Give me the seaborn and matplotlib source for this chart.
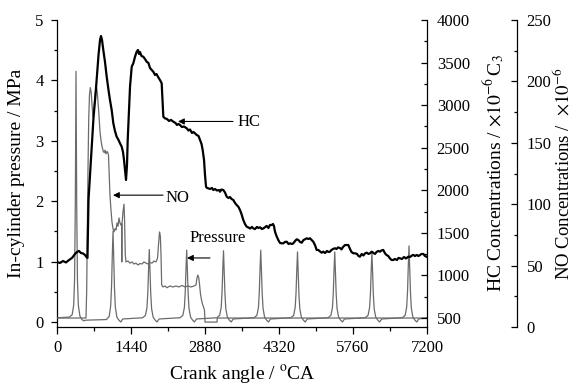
import matplotlib
matplotlib.use("Agg")
import matplotlib.pyplot as plt
import seaborn as sns
import pandas as pd
from matplotlib.ticker import MultipleLocator

# ---------------- data ----------------
# HC concentration (x10^-6 C3) vs crank angle (degCA)
hc_points = [
    (0, 1158), (58, 1146), (117, 1169), (175, 1152), (234, 1181), (292, 1205), (350, 1252),
    (389, 1275), (428, 1287), (467, 1263), (506, 1258), (545, 1240), (574, 1216), (593, 1205),
    (613, 1886), (642, 2180), (671, 2473), (710, 2849), (749, 3119), (778, 3354), (808, 3589),
    (837, 3765), (856, 3812), (876, 3765), (901, 3648), (934, 3507), (967, 3334), (1002, 3178),
    (1031, 3060), (1064, 2943), (1096, 2787), (1128, 2696), (1161, 2629), (1197, 2591),
    (1226, 2552), (1259, 2512), (1284, 2450), (1304, 2356), (1323, 2238), (1343, 2121),
    (1362, 2297), (1376, 2591), (1401, 2943), (1421, 3217), (1454, 3452), (1485, 3491),
    (1518, 3569), (1551, 3628), (1576, 3648), (1596, 3601), (1615, 3624), (1644, 3577),
    (1679, 3569), (1712, 3542), (1745, 3510), (1780, 3495), (1810, 3436), (1843, 3413),
    (1878, 3389), (1907, 3354), (1936, 3366), (1971, 3327), (2004, 3295), (2037, 3257),
    (2053, 3060), (2069, 2864), (2101, 2845), (2140, 2837), (2179, 2814), (2218, 2826),
    (2263, 2806), (2306, 2790), (2335, 2767), (2364, 2779), (2393, 2767), (2432, 2743),
    (2471, 2749), (2524, 2728), (2559, 2702), (2588, 2714), (2627, 2673), (2656, 2685),
    (2719, 2649), (2754, 2638), (2783, 2591), (2812, 2544), (2835, 2473), (2861, 2356),
    (2880, 2180), (2900, 2042), (2919, 2027), (2944, 2023), (2977, 2015), (3016, 2027),
    (3042, 2003), (3075, 2015), (3114, 1997), (3153, 2003), (3172, 1983), (3201, 2009),
    (3236, 2003), (3269, 1974), (3302, 1925), (3337, 1909), (3366, 1921), (3396, 1898),
    (3431, 1886), (3464, 1851), (3497, 1827), (3532, 1804), (3561, 1768), (3590, 1721),
    (3625, 1651), (3658, 1604), (3691, 1572), (3726, 1563), (3756, 1551), (3794, 1569),
    (3817, 1553), (3853, 1545), (3892, 1569), (3921, 1557), (3950, 1565), (3989, 1545),
    (4028, 1557), (4080, 1581), (4115, 1557), (4144, 1592), (4177, 1592), (4203, 1604),
    (4222, 1581), (4242, 1514), (4271, 1463), (4306, 1416), (4339, 1381), (4372, 1377),
    (4404, 1377), (4437, 1393), (4470, 1396), (4505, 1369), (4534, 1377), (4573, 1369),
    (4599, 1377), (4632, 1404), (4665, 1424), (4696, 1416), (4729, 1393), (4762, 1384),
    (4797, 1416), (4826, 1424), (4859, 1436), (4894, 1428), (4923, 1436), (4956, 1416),
    (4987, 1396), (5020, 1357), (5053, 1299), (5085, 1299), (5118, 1281), (5151, 1267),
    (5182, 1279), (5215, 1263), (5254, 1287), (5283, 1275), (5312, 1279), (5341, 1299),
    (5371, 1310), (5410, 1319), (5439, 1310), (5468, 1328), (5507, 1322), (5536, 1305),
    (5566, 1334), (5605, 1357), (5637, 1357), (5669, 1357), (5702, 1310), (5731, 1275),
    (5766, 1260), (5799, 1260), (5838, 1252), (5867, 1228), (5896, 1220), (5929, 1252),
    (5964, 1234), (5993, 1258), (6026, 1267), (6061, 1252), (6091, 1260), (6124, 1279),
    (6159, 1263), (6188, 1252), (6217, 1275), (6252, 1287), (6285, 1279), (6314, 1293),
    (6349, 1299), (6382, 1260), (6411, 1240), (6446, 1228), (6479, 1199), (6512, 1181),
    (6543, 1181), (6577, 1193), (6616, 1181), (6645, 1205), (6674, 1201), (6713, 1193),
    (6752, 1216), (6791, 1199), (6836, 1220), (6869, 1216), (6908, 1234), (6934, 1240),
    (6967, 1228), (7000, 1240), (7035, 1228), (7064, 1240), (7093, 1252), (7128, 1252),
    (7161, 1228), (7200, 1216),
]

# NO concentration (x10^-6) vs crank angle
no_points = [
    (0, 7.3), (564, 7.3), (578, 30), (590, 79), (603, 128), (617, 169), (632, 189), (648, 195),
    (666, 191), (681, 181), (700, 171), (720, 178), (739, 189), (765, 196), (784, 191),
    (808, 178), (837, 159), (856, 152), (876, 147), (901, 143), (920, 142), (934, 144),
    (953, 141), (973, 143), (989, 142), (1002, 140), (1016, 124), (1031, 107), (1051, 95),
    (1070, 85.5), (1090, 80), (1109, 77.4), (1129, 80), (1148, 79), (1167, 84.7), (1187, 82),
    (1206, 88.8), (1226, 84.7), (1245, 83), (1257, 84), (1261, 53), (1265, 84), (1284, 93.6),
    (1304, 100), (1315, 87), (1329, 58.6), (1343, 53), (1382, 53.7), (1421, 52), (1460, 53),
    (1498, 51.3), (1537, 52), (1576, 50.5), (1615, 51.7), (1654, 51.3), (1693, 53),
    (1732, 52), (1771, 51.3), (1810, 52.5), (1849, 52), (1887, 53.7), (1926, 53), (1956, 56),
    (1975, 67), (1995, 77.4), (2011, 74), (2024, 58.6), (2037, 34.2), (2063, 32.6),
    (2101, 33.4), (2140, 32), (2199, 33.4), (2257, 32.6), (2316, 33.4), (2374, 32.6),
    (2432, 33.8), (2491, 32.6), (2549, 33.4), (2608, 32.6), (2666, 33.4), (2705, 34.2),
    (2724, 40), (2740, 42.3), (2759, 40), (2773, 35), (2792, 26.9), (2812, 22), (2831, 18.7),
    (2851, 16.3), (2870, 13.8), (2880, 4), (3114, 4), (3118, 7.3), (7200, 7.3),
]

# In-cylinder pressure (MPa) vs crank angle
pressure_points = [
    (0, 0.07),
    (240, 0.08), (295, 0.12), (325, 0.28), (342, 0.7), (356, 1.9), (370, 4.15), (384, 1.9),
    (398, 0.7), (415, 0.28), (445, 0.1), (485, 0.04), (520, 0.02), (560, 0.03),
    (960, 0.04), (1015, 0.09), (1045, 0.27), (1062, 0.6), (1076, 1.1), (1090, 1.5),
    (1104, 1.07), (1118, 0.57), (1135, 0.25), (1165, 0.08), (1205, 0.03), (1240, 0.0), (1280, 0.05),
    (1666, 0.07), (1721, 0.11), (1751, 0.24), (1768, 0.5), (1782, 0.88), (1796, 1.2),
    (1810, 0.85), (1824, 0.47), (1841, 0.22), (1871, 0.08), (1911, 0.03), (1946, 0.0), (1986, 0.05),
    (2394, 0.07), (2449, 0.11), (2479, 0.24), (2496, 0.5), (2510, 0.88), (2524, 1.19),
    (2538, 0.85), (2552, 0.47), (2569, 0.22), (2599, 0.08), (2639, 0.03), (2674, 0.0), (2714, 0.05),
    (3110, 0.07), (3165, 0.11), (3195, 0.24), (3212, 0.5), (3226, 0.87), (3240, 1.18),
    (3254, 0.84), (3268, 0.47), (3285, 0.22), (3315, 0.08), (3355, 0.03), (3390, 0.0), (3430, 0.05),
    (3835, 0.07), (3890, 0.11), (3920, 0.24), (3937, 0.5), (3951, 0.88), (3965, 1.19),
    (3979, 0.85), (3993, 0.47), (4010, 0.22), (4040, 0.08), (4080, 0.03), (4115, 0.0), (4155, 0.05),
    (4550, 0.07), (4605, 0.11), (4635, 0.24), (4652, 0.49), (4666, 0.86), (4680, 1.16),
    (4694, 0.83), (4708, 0.46), (4725, 0.22), (4755, 0.08), (4795, 0.03), (4830, 0.0), (4870, 0.05),
    (5275, 0.07), (5330, 0.11), (5360, 0.24), (5377, 0.49), (5391, 0.86), (5405, 1.16),
    (5419, 0.83), (5433, 0.46), (5450, 0.22), (5480, 0.08), (5520, 0.03), (5555, 0.0), (5595, 0.05),
    (5998, 0.07), (6053, 0.11), (6083, 0.24), (6100, 0.48), (6114, 0.85), (6128, 1.14),
    (6142, 0.82), (6156, 0.45), (6173, 0.21), (6203, 0.08), (6243, 0.03), (6278, 0.0), (6318, 0.05),
    (6720, 0.07), (6775, 0.11), (6805, 0.25), (6822, 0.52), (6836, 0.93), (6850, 1.26),
    (6864, 0.9), (6878, 0.5), (6895, 0.23), (6925, 0.08), (6965, 0.03), (7000, 0.0), (7040, 0.05),
    (7200, 0.07),
]

x_ticks = [0, 1440, 2880, 4320, 5760, 7200]

# ---------------- styling ----------------
sns.set_theme(style="ticks", rc={
    "axes.edgecolor": "black", "xtick.color": "black", "ytick.color": "black",
    "text.color": "black", "axes.labelcolor": "black", "axes.linewidth": 0.9,
})
plt.rcParams["font.family"] = ["Liberation Serif", "DejaVu Serif"]
plt.rcParams["mathtext.fontset"] = "stix"

fig = plt.figure(figsize=(5.74, 3.85), dpi=100)
ax = fig.add_axes([57 / 574, 58 / 385, 370 / 574, 307 / 385])
ax_no = ax.twinx()
ax_hc = ax.twinx()

p_df = pd.DataFrame(pressure_points, columns=["cad", "p"])
no_df = pd.DataFrame(no_points, columns=["cad", "no"])
hc_df = pd.DataFrame(hc_points, columns=["cad", "hc"])

gray = "#6b6b6b"
sns.lineplot(data=p_df, x="cad", y="p", ax=ax, color=gray, lw=0.9,
             estimator=None, sort=False)
sns.lineplot(data=no_df, x="cad", y="no", ax=ax_no, color=gray, lw=0.9,
             estimator=None, sort=False)
sns.lineplot(data=hc_df, x="cad", y="hc", ax=ax_hc, color="black", lw=1.6,
             estimator=None, sort=False)

ax.set_xlim(0, 7200)
ax.set_ylim(-0.083, 5)
ax_hc.set_ylim(394, 4000)
ax_no.set_ylim(0, 250)

# spines
ax.spines["top"].set_visible(False)
ax.spines["right"].set_visible(False)
for tw in (ax_hc, ax_no):
    for s in ("top", "left", "bottom"):
        tw.spines[s].set_visible(False)
ax_no.spines["right"].set_position(("axes", 460 / 370))

# ticks
ax.set_xticks(x_ticks)
ax.xaxis.set_minor_locator(MultipleLocator(720))
ax.yaxis.set_major_locator(MultipleLocator(1))
ax.yaxis.set_minor_locator(MultipleLocator(0.5))
ax.tick_params(axis="x", which="major", direction="out", length=5, width=0.9, labelsize=12, pad=4)
ax.tick_params(axis="x", which="minor", direction="out", length=3, width=0.9)
ax.tick_params(axis="y", which="major", direction="out", length=4.5, width=0.9, labelsize=12, pad=5)
ax.tick_params(axis="y", which="minor", direction="out", length=2.5, width=0.9)

ax_hc.yaxis.set_major_locator(MultipleLocator(500))
ax_hc.yaxis.set_minor_locator(MultipleLocator(250))
ax_no.yaxis.set_major_locator(MultipleLocator(50))
ax_no.yaxis.set_minor_locator(MultipleLocator(25))
for tw in (ax_hc, ax_no):
    tw.tick_params(axis="y", which="major", direction="in", length=4, width=0.9, labelsize=12, pad=7)
    tw.tick_params(axis="y", which="minor", direction="in", length=2.5, width=0.9)

# labels
ax.set_xlabel("Crank angle / $^{\\mathrm{o}}$CA", fontsize=14)
ax.set_ylabel("In-cylinder pressure / MPa", fontsize=14)
ax_hc.set_ylabel("HC Concentrations / $\\times10^{-6}\\,$C$_3$", fontsize=14)
ax_no.set_ylabel("NO Concentrations /  $\\times10^{-6}$", fontsize=13.5)
ax.xaxis.set_label_coords(0.5, -0.118)
ax.yaxis.set_label_coords(-0.0865, 0.5)
ax_hc.yaxis.set_label_coords(1.148, 0.5)
ax_no.yaxis.set_label_coords(1.337, 0.5)

# annotations (on pressure axis)
arrow = dict(arrowstyle="-|>", color="black", lw=0.8, mutation_scale=9, shrinkA=0, shrinkB=0)
ax.annotate("", xy=(2355, 3.32), xytext=(3425, 3.32), arrowprops=arrow)
ax.text(3522, 3.31, "HC", fontsize=12, va="center", ha="left")
ax.annotate("", xy=(1090, 2.10), xytext=(2063, 2.10), arrowprops=arrow)
ax.text(2121, 2.06, "NO", fontsize=12, va="center", ha="left")
ax.annotate("", xy=(2530, 1.06), xytext=(2977, 1.06), arrowprops=arrow)
ax.text(2588, 1.39, "Pressure", fontsize=12, va="center", ha="left")

fig.savefig("out.png", dpi=100)
